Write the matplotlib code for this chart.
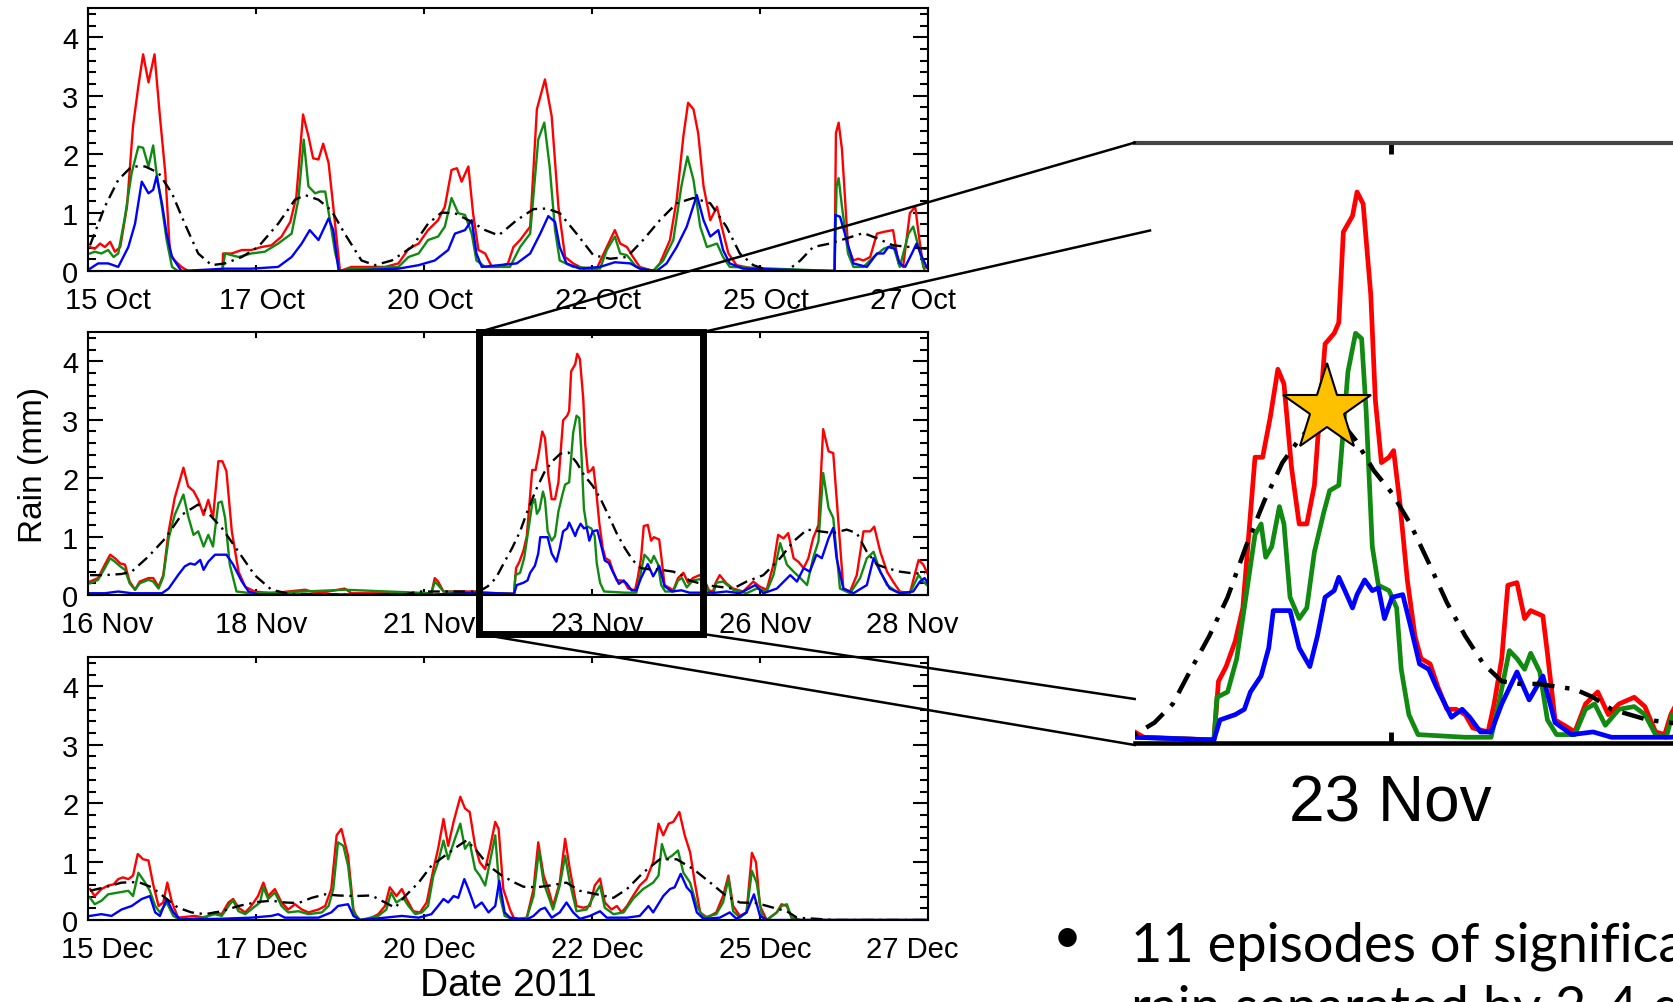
import numpy as np
import matplotlib
matplotlib.use('Agg')
import matplotlib.pyplot as plt
import matplotlib.transforms as mtransforms
from matplotlib.lines import Line2D
from matplotlib.patches import Rectangle

# ---- data: (day since start of window, rain mm) ----
oct_red = [(0.03,0.41),(0.10,0.38),(0.18,0.47),(0.25,0.41),(0.33,0.50),(0.40,0.33),(0.48,0.41),(0.58,1.10),(0.67,2.48),(0.75,3.17),(0.82,3.71),(0.90,3.23),(0.99,3.71),(1.07,2.65),(1.15,1.68),(1.22,0.30),(1.29,0.18),(1.39,0.07),(1.49,0.0),(2.00,0.0),(2.01,0.30),(2.14,0.30),(2.29,0.36),(2.43,0.36),(2.58,0.41),(2.73,0.44),(2.88,0.59),(3.01,0.84),(3.10,1.27),(3.20,2.68),(3.28,2.31),(3.35,1.93),(3.43,1.91),(3.50,2.18),(3.58,1.85),(3.65,1.10),(3.75,0.0),(3.92,0.07),(4.42,0.07),(4.62,0.13),(4.77,0.38),(4.92,0.47),(5.06,0.70),(5.21,0.87),(5.31,1.10),(5.41,1.73),(5.49,1.76),(5.56,1.53),(5.66,1.79),(5.73,0.99),(5.81,0.36),(5.91,0.30),(6.01,0.07),(6.11,0.07),(6.25,0.13),(6.33,0.41),(6.43,0.53),(6.58,0.76),(6.68,2.77),(6.80,3.28),(6.90,2.65),(7.00,1.10),(7.10,0.24),(7.22,0.13),(7.37,0.04),(7.57,0.04),(7.72,0.41),(7.84,0.70),(7.92,0.47),(8.02,0.41),(8.11,0.24),(8.21,0.07),(8.41,0.0),(8.51,0.13),(8.66,0.53),(8.76,1.22),(8.86,2.31),(8.93,2.88),(9.01,2.77),(9.08,2.36),(9.16,1.45),(9.26,0.87),(9.36,1.10),(9.43,0.76),(9.53,0.30),(9.65,0.10),(9.90,0.04),(10.1,0.0),(11.11,0.0),(11.13,2.36),(11.17,2.54),(11.22,2.08),(11.31,0.41),(11.39,0.18),(11.46,0.21),(11.54,0.18),(11.64,0.24),(11.74,0.64),(11.84,0.67),(11.98,0.70),(12.06,0.13),(12.13,0.07),(12.23,0.99),(12.31,1.10),(12.36,0.64),(12.43,0.07),(12.5,0.05)]
oct_green = [(0.03,0.30),(0.10,0.33),(0.20,0.30),(0.30,0.36),(0.38,0.24),(0.45,0.30),(0.55,0.93),(0.65,1.68),(0.75,2.13),(0.82,2.11),(0.90,1.79),(0.97,2.15),(1.02,1.68),(1.10,1.10),(1.17,0.53),(1.25,0.07),(1.34,0.0),(2.00,0.0),(2.04,0.30),(2.24,0.24),(2.43,0.30),(2.63,0.33),(2.83,0.47),(3.03,0.64),(3.13,1.22),(3.21,2.25),(3.28,1.45),(3.38,1.33),(3.45,1.36),(3.53,1.36),(3.60,0.87),(3.68,0.30),(3.75,0.0),(3.92,0.04),(4.62,0.07),(4.77,0.24),(4.92,0.30),(5.06,0.53),(5.21,0.59),(5.31,0.76),(5.41,1.25),(5.51,0.99),(5.61,0.96),(5.71,0.64),(5.78,0.18),(5.91,0.07),(6.28,0.07),(6.43,0.41),(6.58,0.64),(6.70,2.25),(6.79,2.54),(6.87,1.79),(6.95,0.70),(7.02,0.18),(7.22,0.07),(7.62,0.04),(7.72,0.36),(7.84,0.59),(7.92,0.30),(8.02,0.27),(8.16,0.07),(8.41,0.0),(8.56,0.18),(8.71,0.53),(8.83,1.45),(8.92,1.96),(9.01,1.56),(9.11,0.76),(9.21,0.41),(9.36,0.47),(9.45,0.24),(9.55,0.07),(10.2,0.04),(11.11,0.0),(11.14,1.45),(11.17,1.59),(11.22,1.10),(11.31,0.30),(11.39,0.07),(11.54,0.07),(11.69,0.24),(11.84,0.38),(11.98,0.44),(12.08,0.07),(12.21,0.64),(12.28,0.76),(12.36,0.41),(12.45,0.0)]
oct_blue = [(0.03,0.04),(0.15,0.13),(0.30,0.13),(0.45,0.07),(0.60,0.41),(0.70,0.81),(0.80,1.53),(0.90,1.33),(0.97,1.39),(1.02,1.62),(1.10,1.16),(1.17,0.64),(1.25,0.24),(1.39,0.0),(2.04,0.04),(2.43,0.04),(2.83,0.07),(3.03,0.24),(3.18,0.47),(3.30,0.70),(3.43,0.53),(3.58,0.90),(3.65,0.70),(3.73,0.0),(4.62,0.04),(4.92,0.10),(5.16,0.18),(5.36,0.36),(5.46,0.64),(5.61,0.70),(5.71,0.87),(5.78,0.30),(5.86,0.07),(6.38,0.13),(6.58,0.30),(6.73,0.64),(6.85,0.94),(6.95,0.84),(7.02,0.41),(7.12,0.13),(7.32,0.04),(7.62,0.07),(7.84,0.15),(8.07,0.13),(8.21,0.04),(8.46,0.0),(8.61,0.13),(8.76,0.41),(8.91,0.76),(9.06,1.30),(9.16,0.87),(9.26,0.59),(9.38,0.70),(9.45,0.36),(9.55,0.13),(9.75,0.04),(11.11,0.0),(11.12,0.96),(11.19,0.93),(11.29,0.53),(11.39,0.13),(11.59,0.07),(11.74,0.30),(11.84,0.30),(11.91,0.41),(12.01,0.38),(12.08,0.13),(12.16,0.07),(12.26,0.30),(12.33,0.47),(12.41,0.24),(12.48,0.07)]
oct_mean = [(0.03,0.44),(0.25,1.10),(0.45,1.56),(0.65,1.79),(0.85,1.79),(1.05,1.68),(1.25,1.33),(1.44,0.81),(1.64,0.30),(1.84,0.10),(2.04,0.13),(2.29,0.24),(2.53,0.41),(2.83,0.81),(3.08,1.22),(3.23,1.30),(3.43,1.22),(3.62,1.04),(3.82,0.64),(4.07,0.18),(4.27,0.10),(4.52,0.18),(4.82,0.41),(5.06,0.81),(5.26,1.00),(5.46,0.99),(5.71,0.84),(5.91,0.70),(6.11,0.61),(6.38,0.87),(6.63,1.06),(6.83,1.07),(7.02,0.99),(7.27,0.64),(7.52,0.27),(7.77,0.21),(8.02,0.24),(8.26,0.53),(8.51,0.87),(8.76,1.16),(9.01,1.25),(9.26,1.16),(9.50,0.76),(9.70,0.30),(9.90,0.10),(10.15,0.0),(10.40,0.0),(10.60,0.18),(10.79,0.41),(11.04,0.47),(11.29,0.56),(11.54,0.65),(11.74,0.56),(11.98,0.44),(12.23,0.41),(12.48,0.38)]

nov_red = [(0.03,0.23),(0.15,0.29),(0.25,0.52),(0.33,0.69),(0.40,0.63),(0.48,0.54),(0.55,0.52),(0.62,0.23),(0.70,0.09),(0.77,0.23),(0.90,0.29),(0.97,0.29),(1.05,0.14),(1.12,0.34),(1.20,1.09),(1.29,1.66),(1.42,2.18),(1.49,1.86),(1.57,1.78),(1.64,1.63),(1.72,1.37),(1.79,1.63),(1.86,1.32),(1.94,2.29),(2.00,2.29),(2.06,2.12),(2.14,1.09),(2.24,0.40),(2.34,0.14),(2.48,0.06),(2.73,0.03),(3.23,0.09),(3.43,0.03),(3.82,0.11),(3.92,0.03),(5.11,0.03),(5.16,0.29),(5.21,0.23),(5.29,0.06),(5.76,0.06),(5.82,0.08),(5.88,0.04),(6.34,0.02),(6.37,0.46),(6.42,0.57),(6.48,0.76),(6.53,1.01),(6.58,1.72),(6.61,2.14),(6.66,2.14),(6.71,2.44),(6.76,2.80),(6.80,2.69),(6.85,2.06),(6.90,1.64),(6.95,1.64),(7.00,1.93),(7.03,2.40),(7.07,2.99),(7.13,3.07),(7.16,3.15),(7.19,3.83),(7.25,3.95),(7.28,4.13),(7.32,4.04),(7.37,3.36),(7.40,2.57),(7.44,2.10),(7.49,2.14),(7.52,2.19),(7.56,1.81),(7.61,1.22),(7.66,0.80),(7.70,0.63),(7.76,0.59),(7.81,0.42),(7.87,0.25),(7.93,0.25),(7.99,0.21),(8.04,0.11),(8.14,0.08),(8.18,0.29),(8.23,0.63),(8.27,1.18),(8.33,1.20),(8.38,0.93),(8.42,0.99),(8.50,0.95),(8.53,0.67),(8.58,0.17),(8.64,0.13),(8.71,0.08),(8.78,0.29),(8.86,0.38),(8.93,0.21),(9.00,0.29),(9.10,0.34),(9.17,0.27),(9.24,0.08),(9.30,0.06),(9.34,0.21),(9.40,0.34),(9.50,0.20),(9.60,0.11),(9.75,0.06),(9.90,0.23),(10.0,0.14),(10.1,0.09),(10.2,0.52),(10.27,1.03),(10.35,0.97),(10.42,1.06),(10.5,0.63),(10.57,0.57),(10.65,0.46),(10.72,0.63),(10.79,0.97),(10.87,1.20),(10.94,2.84),(11.02,2.46),(11.09,2.43),(11.17,1.20),(11.24,0.11),(11.34,0.06),(11.44,0.34),(11.54,1.09),(11.64,1.09),(11.70,1.17),(11.79,0.74),(11.89,0.40),(11.98,0.23),(12.08,0.06),(12.23,0.03),(12.36,0.60),(12.43,0.52),(12.5,0.35)]
nov_green = [(0.03,0.20),(0.15,0.26),(0.25,0.46),(0.33,0.63),(0.40,0.57),(0.48,0.49),(0.55,0.43),(0.62,0.20),(0.70,0.09),(0.77,0.20),(0.90,0.26),(0.97,0.23),(1.05,0.11),(1.12,0.31),(1.20,0.97),(1.29,1.37),(1.42,1.72),(1.49,1.35),(1.57,1.03),(1.64,1.09),(1.72,0.83),(1.79,1.03),(1.86,0.83),(1.94,1.58),(1.99,1.60),(2.04,1.32),(2.11,0.52),(2.21,0.06),(2.43,0.03),(3.23,0.06),(3.82,0.09),(5.11,0.03),(5.16,0.23),(5.21,0.17),(5.29,0.06),(5.76,0.04),(5.82,0.04),(6.34,0.02),(6.36,0.34),(6.43,0.38),(6.49,0.63),(6.55,1.09),(6.61,1.56),(6.65,1.64),(6.68,1.39),(6.72,1.47),(6.77,1.77),(6.80,1.64),(6.84,1.09),(6.90,0.93),(6.95,1.01),(7.00,1.43),(7.06,1.72),(7.10,1.89),(7.16,1.93),(7.19,2.35),(7.22,2.78),(7.27,3.07),(7.31,3.03),(7.34,2.48),(7.38,1.47),(7.42,1.18),(7.49,1.14),(7.54,1.01),(7.57,0.55),(7.62,0.21),(7.68,0.06),(7.99,0.04),(8.16,0.04),(8.21,0.29),(8.28,0.69),(8.33,0.63),(8.38,0.55),(8.42,0.67),(8.48,0.53),(8.53,0.17),(8.59,0.06),(8.71,0.06),(8.78,0.25),(8.84,0.29),(8.91,0.13),(9.00,0.25),(9.10,0.27),(9.17,0.21),(9.24,0.06),(9.31,0.04),(9.35,0.21),(9.45,0.23),(9.60,0.09),(9.80,0.03),(9.95,0.11),(10.1,0.06),(10.2,0.34),(10.30,0.89),(10.40,0.52),(10.5,0.40),(10.6,0.29),(10.7,0.17),(10.79,0.63),(10.87,0.92),(10.94,2.09),(11.02,1.49),(11.09,1.32),(11.19,0.11),(11.34,0.03),(11.49,0.29),(11.59,0.63),(11.69,0.74),(11.79,0.40),(11.89,0.17),(12.03,0.06),(12.23,0.03),(12.36,0.34),(12.43,0.23),(12.5,0.15)]
nov_blue = [(0.03,0.03),(0.25,0.03),(0.45,0.06),(0.65,0.03),(1.10,0.03),(1.20,0.11),(1.34,0.34),(1.44,0.49),(1.52,0.54),(1.59,0.52),(1.67,0.60),(1.72,0.43),(1.79,0.57),(1.89,0.69),(2.06,0.69),(2.16,0.52),(2.29,0.23),(2.39,0.06),(2.53,0.01),(5.16,0.01),(5.82,0.04),(6.34,0.02),(6.38,0.17),(6.48,0.21),(6.54,0.25),(6.58,0.38),(6.65,0.50),(6.70,0.71),(6.73,0.99),(6.84,0.99),(6.90,0.71),(6.97,0.57),(7.02,0.80),(7.07,1.09),(7.13,1.14),(7.16,1.24),(7.20,1.14),(7.25,1.01),(7.28,1.11),(7.33,1.22),(7.38,1.14),(7.42,1.16),(7.46,0.93),(7.51,1.09),(7.58,1.11),(7.63,0.88),(7.69,0.59),(7.75,0.55),(7.80,0.42),(7.90,0.19),(7.97,0.25),(8.02,0.19),(8.09,0.08),(8.16,0.08),(8.23,0.29),(8.33,0.53),(8.41,0.32),(8.50,0.50),(8.58,0.15),(8.69,0.06),(8.83,0.08),(8.95,0.04),(9.34,0.04),(9.50,0.06),(9.70,0.03),(9.93,0.17),(10.05,0.03),(10.25,0.11),(10.45,0.34),(10.55,0.23),(10.65,0.46),(10.74,0.40),(10.84,0.69),(10.92,0.63),(11.02,0.97),(11.09,1.15),(11.14,0.63),(11.24,0.11),(11.39,0.03),(11.59,0.17),(11.69,0.63),(11.79,0.40),(11.93,0.11),(12.08,0.03),(12.28,0.06),(12.38,0.23),(12.45,0.29),(12.5,0.2)]
nov_mean = [(0.03,0.34),(0.25,0.34),(0.50,0.36),(0.65,0.40),(0.90,0.66),(1.15,0.97),(1.39,1.37),(1.64,1.55),(1.79,1.40),(1.99,1.15),(2.24,0.74),(2.48,0.34),(2.73,0.09),(3.03,0.01),(3.43,0.01),(4.12,0.0),(4.72,0.01),(4.92,0.06),(5.41,0.06),(5.82,0.06),(5.95,0.15),(6.07,0.29),(6.19,0.55),(6.31,0.80),(6.43,1.09),(6.55,1.47),(6.67,1.81),(6.79,2.10),(6.91,2.29),(7.03,2.42),(7.15,2.44),(7.27,2.27),(7.39,2.04),(7.51,1.87),(7.63,1.64),(7.75,1.35),(7.87,1.05),(7.99,0.80),(8.11,0.59),(8.23,0.46),(8.35,0.44),(8.47,0.44),(8.59,0.42),(8.71,0.40),(8.83,0.34),(8.95,0.25),(9.07,0.21),(9.19,0.17),(9.40,0.14),(9.60,0.11),(9.80,0.23),(10.05,0.34),(10.30,0.63),(10.50,0.92),(10.70,1.12),(10.89,1.09),(11.09,1.06),(11.29,1.12),(11.44,1.06),(11.59,0.74),(11.74,0.52),(11.89,0.46),(12.08,0.40),(12.28,0.37),(12.45,0.37)]

dec_red = [(0.03,0.53),(0.10,0.41),(0.20,0.53),(0.30,0.59),(0.38,0.61),(0.45,0.70),(0.52,0.73),(0.60,0.70),(0.67,0.76),(0.74,1.13),(0.82,1.04),(0.90,1.02),(0.97,0.61),(1.05,0.24),(1.12,0.30),(1.18,0.64),(1.25,0.30),(1.34,0.04),(1.59,0.07),(1.74,0.04),(1.89,0.13),(1.99,0.10),(2.09,0.30),(2.16,0.36),(2.24,0.21),(2.34,0.13),(2.43,0.24),(2.53,0.41),(2.61,0.64),(2.68,0.41),(2.78,0.53),(2.88,0.30),(2.98,0.18),(3.08,0.27),(3.18,0.18),(3.28,0.13),(3.43,0.18),(3.53,0.24),(3.62,0.53),(3.70,1.45),(3.77,1.56),(3.87,1.10),(3.95,0.18),(4.02,0.0),(4.17,0.01),(4.32,0.10),(4.42,0.24),(4.49,0.56),(4.59,0.41),(4.67,0.53),(4.74,0.36),(4.84,0.15),(4.94,0.13),(5.04,0.30),(5.14,0.87),(5.21,1.22),(5.29,1.73),(5.36,1.27),(5.44,1.68),(5.54,2.11),(5.61,1.91),(5.68,1.85),(5.76,1.27),(5.83,0.99),(5.91,0.87),(5.98,1.22),(6.06,1.68),(6.11,1.56),(6.18,0.53),(6.28,0.18),(6.35,0.0),(6.53,0.04),(6.63,0.53),(6.70,1.33),(6.78,0.76),(6.85,0.53),(6.92,0.24),(7.02,0.64),(7.10,1.39),(7.17,0.87),(7.27,0.24),(7.37,0.21),(7.47,0.24),(7.54,0.59),(7.62,0.71),(7.69,0.30),(7.79,0.18),(7.87,0.24),(7.94,0.13),(8.02,0.24),(8.11,0.41),(8.21,0.59),(8.31,0.70),(8.41,0.99),(8.49,1.65),(8.56,1.45),(8.64,1.65),(8.71,1.68),(8.80,1.85),(8.88,1.45),(8.96,1.16),(9.03,0.64),(9.11,0.13),(9.21,0.04),(9.35,0.13),(9.45,0.41),(9.53,0.76),(9.60,0.24),(9.70,0.07),(9.80,0.13),(9.88,1.15),(9.94,0.99),(10.0,0.24),(10.1,0.0),(10.25,0.13),(10.32,0.27),(10.40,0.24),(10.47,0.04),(10.6,0.0),(12.5,0.0)]
dec_green = [(0.03,0.38),(0.10,0.27),(0.20,0.33),(0.30,0.44),(0.45,0.47),(0.60,0.50),(0.67,0.41),(0.75,0.81),(0.85,0.64),(0.92,0.50),(1.00,0.24),(1.07,0.13),(1.17,0.30),(1.27,0.07),(1.37,0.0),(1.69,0.04),(1.89,0.10),(1.99,0.07),(2.11,0.27),(2.16,0.33),(2.24,0.15),(2.34,0.10),(2.46,0.21),(2.56,0.30),(2.61,0.56),(2.68,0.36),(2.78,0.47),(2.88,0.24),(2.98,0.13),(3.13,0.15),(3.28,0.10),(3.48,0.13),(3.58,0.24),(3.65,0.53),(3.72,1.33),(3.80,1.27),(3.87,0.93),(3.95,0.13),(4.05,0.0),(4.32,0.07),(4.44,0.18),(4.51,0.47),(4.59,0.30),(4.69,0.38),(4.77,0.24),(4.87,0.10),(4.97,0.13),(5.06,0.24),(5.14,0.76),(5.21,0.99),(5.29,1.36),(5.36,1.04),(5.46,1.39),(5.54,1.65),(5.61,1.22),(5.68,1.33),(5.76,0.87),(5.83,0.76),(5.91,0.59),(5.98,0.99),(6.06,1.45),(6.13,0.41),(6.20,0.07),(6.35,0.0),(6.53,0.04),(6.63,0.41),(6.71,1.19),(6.78,0.64),(6.85,0.41),(6.92,0.18),(7.02,0.59),(7.10,1.10),(7.17,0.64),(7.27,0.15),(7.42,0.18),(7.54,0.44),(7.62,0.59),(7.69,0.21),(7.82,0.10),(7.97,0.13),(8.11,0.36),(8.26,0.53),(8.41,0.64),(8.49,0.76),(8.54,1.30),(8.61,1.04),(8.69,1.10),(8.78,1.19),(8.86,0.81),(8.96,0.64),(9.06,0.24),(9.16,0.04),(9.35,0.10),(9.45,0.30),(9.53,0.70),(9.60,0.15),(9.70,0.04),(9.80,0.13),(9.88,0.84),(9.95,0.64),(10.03,0.07),(10.1,0.0),(10.25,0.13),(10.32,0.24),(10.40,0.27),(10.47,0.04),(10.6,0.0),(12.5,0.0)]
dec_blue = [(0.03,0.07),(0.20,0.10),(0.35,0.07),(0.50,0.18),(0.65,0.24),(0.80,0.36),(0.92,0.41),(1.00,0.13),(1.07,0.07),(1.17,0.36),(1.27,0.13),(1.37,0.01),(1.94,0.02),(2.43,0.04),(2.73,0.07),(2.83,0.10),(2.93,0.04),(3.43,0.04),(3.62,0.13),(3.72,0.24),(3.87,0.27),(3.95,0.07),(4.05,0.0),(4.42,0.04),(4.67,0.07),(4.92,0.04),(5.11,0.10),(5.21,0.24),(5.29,0.36),(5.36,0.30),(5.44,0.41),(5.51,0.38),(5.60,0.70),(5.66,0.53),(5.76,0.21),(5.86,0.30),(5.96,0.13),(6.06,0.24),(6.12,0.67),(6.20,0.13),(6.28,0.04),(6.53,0.01),(6.63,0.07),(6.73,0.18),(6.80,0.21),(6.90,0.04),(7.02,0.13),(7.12,0.30),(7.22,0.13),(7.32,0.02),(7.47,0.07),(7.62,0.15),(7.72,0.04),(8.02,0.04),(8.21,0.07),(8.34,0.24),(8.41,0.13),(8.56,0.41),(8.66,0.53),(8.73,0.56),(8.82,0.79),(8.91,0.56),(8.98,0.47),(9.06,0.13),(9.16,0.02),(9.40,0.04),(9.55,0.13),(9.65,0.02),(9.80,0.13),(9.91,0.44),(10.0,0.07),(10.1,0.0),(12.5,0.0)]
dec_mean = [(0.03,0.50),(0.25,0.56),(0.50,0.64),(0.75,0.65),(0.95,0.56),(1.15,0.38),(1.34,0.21),(1.54,0.13),(1.74,0.10),(1.99,0.15),(2.24,0.24),(2.53,0.31),(2.73,0.33),(2.93,0.30),(3.13,0.29),(3.33,0.38),(3.53,0.44),(3.72,0.42),(3.97,0.41),(4.22,0.42),(4.42,0.30),(4.57,0.21),(4.72,0.41),(4.92,0.64),(5.11,0.93),(5.31,1.10),(5.51,1.27),(5.63,1.36),(5.76,1.22),(5.96,0.93),(6.16,0.76),(6.35,0.64),(6.48,0.57),(6.68,0.56),(6.87,0.59),(7.12,0.64),(7.32,0.50),(7.57,0.44),(7.82,0.38),(8.02,0.53),(8.26,0.81),(8.51,1.04),(8.76,1.04),(9.01,0.87),(9.26,0.64),(9.50,0.41),(9.70,0.30),(9.95,0.29),(10.20,0.21),(10.40,0.15),(10.55,0.04),(10.84,0.02),(11.09,0.0),(12.48,0.0)]

tick_days = [0, 2.5, 5, 7.5, 10, 12.5]
oct_labels = ['15 Oct', '17 Oct', '20 Oct', '22 Oct', '25 Oct', '27 Oct']
nov_labels = ['16 Nov', '18 Nov', '21 Nov', '23 Nov', '26 Nov', '28 Nov']
dec_labels = ['15 Dec', '17 Dec', '20 Dec', '22 Dec', '25 Dec', '27 Dec']

zoom_lo, zoom_hi = 5.82, 9.15      # window shown magnified
star_day, star_mm = 7.08, 2.50

plt.rcParams['font.family'] = ['Liberation Sans', 'DejaVu Sans']
tsize = 21

W, H = 1673, 1003
fig = plt.figure(figsize=(W / 100, H / 100), dpi=100)


def fx(px):
    return px / W


def fy(py):
    return 1 - py / H


def draw_series(ax, red, green, blue, mean, lw, lwk):
    for pts, col in ((red, '#ff0000'), (green, '#118a11'), (blue, '#0000ff')):
        d = np.array(pts)
        ax.plot(d[:, 0], d[:, 1], color=col, lw=lw, solid_joinstyle='round')
    d = np.array(mean)
    ax.plot(d[:, 0], d[:, 1], color='black', lw=lwk, ls=(0, (5, 2.4, 1, 2.4)))


panels = [
    (272, oct_red, oct_green, oct_blue, oct_mean, oct_labels),
    (596, nov_red, nov_green, nov_blue, nov_mean, nov_labels),
    (921, dec_red, dec_green, dec_blue, dec_mean, dec_labels),
]
# sideways nudge (points) of the x tick labels, edge ones pulled inward
label_shift = [14, 4, 4, 4, 4, -11]
axes = []
for bottom_px, r, g, b, m, labels in panels:
    ax = fig.add_axes([fx(88), fy(bottom_px), fx(928) - fx(88), 262.8 / H])
    draw_series(ax, r, g, b, m, 1.7, 1.7)
    ax.set_xlim(0, 12.5)
    ax.set_ylim(0, 4.5)
    ax.set_xticks(tick_days)
    ax.set_yticks([0, 1, 2, 3, 4])
    ax.set_yticks(np.arange(0, 4.6, 0.2), minor=True)
    ax.tick_params(which='both', direction='in', top=True, right=True, width=1.5)
    ax.tick_params(axis='y', which='major', length=10.5, pad=7, labelsize=tsize)
    ax.tick_params(axis='y', which='minor', length=5.5)
    ax.tick_params(axis='x', which='major', length=4.5, pad=11, labelsize=tsize)
    ax.set_xticklabels(labels)
    for t, dx in zip(ax.get_xticklabels(), label_shift):
        t.set_transform(t.get_transform() +
                        mtransforms.ScaledTranslation(dx / 72, 0, fig.dpi_scale_trans))
    for s in ax.spines.values():
        s.set_linewidth(1.5)
    axes.append(ax)

axes[1].set_ylabel('Rain (mm)', fontsize=24)
axes[1].yaxis.set_label_coords(-0.046, 0.5)
axes[2].set_xlabel('Date 2011', fontsize=28)
axes[2].xaxis.set_label_coords(0.5, -0.18)

# box around the magnified window on the November panel
trans = mtransforms.blended_transform_factory(axes[1].transData, axes[1].transAxes)
axes[1].add_patch(Rectangle((zoom_lo, -0.148), zoom_hi - zoom_lo, 1.148, fill=False,
                            lw=5, ec='black', transform=trans, clip_on=False, zorder=10))

# magnified view
axr = fig.add_axes([fx(1134.7), fy(743.6), fx(1700) - fx(1134.7), 600 / H])
draw_series(axr, nov_red, nov_green, nov_blue, nov_mean, 3.4, 3.2)
axr.set_xlim(zoom_lo, zoom_lo + (1700 - 1134.7) / 152.3)
axr.set_ylim(0, 4.5)
axr.set_xticks([7.5])
axr.set_xticklabels(['23 Nov'], fontsize=46)
axr.set_yticks([])
axr.spines['left'].set_visible(False)
axr.spines['right'].set_visible(False)
axr.spines['top'].set_color('#444444')
axr.spines['top'].set_linewidth(3)
axr.spines['bottom'].set_linewidth(3.3)
axr.tick_params(axis='x', direction='in', top=True, length=8, width=3.5, pad=22)
axr.plot(star_day, star_mm, marker='*', ms=66, mfc='#ffc000', mec='black', mew=1.5,
         clip_on=False, zorder=6)

# connecting lines
for (x0, y0), (x1, y1) in [((479, 333), (1134.7, 143.6)), ((703, 333), (1150, 231.5)),
                           ((479, 635), (1134.7, 746)), ((703, 635), (1134.7, 700))]:
    fig.add_artist(Line2D([fx(x0), fx(x1)], [fy(y0), fy(y1)], color='black', lw=1.8,
                          transform=fig.transFigure, zorder=5))

# bullet text
fig.text(fx(1067), fy(939), '\u2022', fontsize=36, ha='center', va='center', family='Lato')
fig.text(fx(1131), fy(962), '11 episodes of significant', fontsize=39, ha='left',
         va='baseline', family='Lato')
fig.text(fx(1131), fy(1025), 'rain separated by 2-4 days', fontsize=39, ha='left',
         va='baseline', family='Lato')

fig.savefig('out.png', dpi=100)
